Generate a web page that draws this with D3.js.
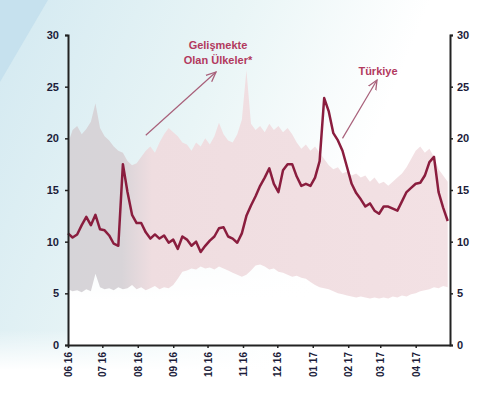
<!DOCTYPE html>
<html>
<head>
<meta charset="utf-8">
<script src="https://cdn.jsdelivr.net/npm/d3@7"></script>
<style>
  body { margin: 0; background: #fff; }
  svg { display: block; }
  .tick text { font-family: "Liberation Sans", Arial, sans-serif; font-weight: bold; fill: #1c1c3a; }
</style>
</head>
<body>
<div id="chart"></div>
<script>
// 4-day steps starting 2016-06-01
const startDate = new Date(2016, 5, 1);
const stepDays = 4;

// Türkiye
const turkey = [10.8, 10.4, 10.7, 11.6, 12.4, 11.6, 12.6, 11.2, 11.1, 10.6,
  9.8, 9.6, 17.5, 14.8, 12.6, 11.8, 11.8, 10.9, 10.3, 10.7,
  10.3, 10.6, 9.9, 10.2, 9.3, 10.5, 10.2, 9.6, 10.0, 9.0,
  9.6, 10.1, 10.5, 11.3, 11.4, 10.5, 10.3, 9.9, 10.8, 12.5,
  13.5, 14.4, 15.4, 16.2, 17.1, 15.6, 14.8, 16.9, 17.5, 17.5,
  16.3, 15.4, 15.6, 15.4, 16.2, 17.8, 23.9, 22.6, 20.5, 19.8,
  18.8, 17.2, 15.6, 14.7, 14.1, 13.4, 13.7, 13.0, 12.7, 13.4,
  13.4, 13.2, 13.0, 13.9, 14.8, 15.2, 15.6, 15.7, 16.4, 17.7,
  18.2, 14.8, 13.3, 12.0];

// Gelişmekte Olan Ülkeler: range max / min
const emHigh = [19.5, 20.8, 21.2, 20.4, 20.9, 21.6, 23.4, 21.0, 20.2, 19.8,
  19.2, 18.8, 18.6, 17.8, 17.4, 17.6, 18.2, 18.8, 19.2, 18.6,
  19.6, 20.4, 21.0, 20.6, 20.2, 19.6, 19.4, 18.8, 19.6, 19.2,
  20.0, 19.4, 20.2, 21.5, 20.4, 19.8, 19.6, 20.4, 21.8, 26.6,
  21.4, 20.8, 21.2, 20.6, 21.4, 20.8, 21.2, 20.6, 21.0, 20.4,
  19.6, 19.0, 19.4, 18.8, 19.2, 18.6, 18.0, 17.4, 17.0, 17.2,
  16.6, 16.8, 16.4, 16.6, 16.2, 16.4, 15.8, 16.2, 15.6, 15.8,
  15.4, 15.8, 16.2, 16.6, 17.2, 18.0, 18.8, 19.2, 18.6, 19.0,
  18.2, 17.0, 16.4, 15.8];
const emLow = [5.4, 5.2, 5.3, 5.1, 5.4, 5.2, 6.9, 5.6, 5.4, 5.5,
  5.3, 5.6, 5.4, 5.5, 5.8, 5.4, 5.6, 5.3, 5.5, 5.7,
  5.4, 5.6, 5.5, 5.8, 6.4, 7.1, 7.2, 7.4, 7.3, 7.6,
  7.4, 7.5, 7.3, 7.6, 7.4, 7.2, 7.0, 6.8, 6.6, 6.8,
  7.2, 7.7, 7.8, 7.6, 7.3, 7.4, 7.1, 7.0, 6.8, 6.6,
  6.7, 6.5, 6.4, 6.1, 5.8, 5.6, 5.5, 5.4, 5.2, 5.0,
  4.9, 4.8, 4.7, 4.6, 4.7, 4.6, 4.5, 4.6, 4.5, 4.6,
  4.5, 4.7, 4.6, 4.8, 4.7, 4.9, 5.0, 5.2, 5.3, 5.4,
  5.6, 5.5, 5.7, 5.6];

const monthLabels = ["06 16", "07 16", "08 16", "09 16", "10 16", "11 16",
  "12 16", "01 17", "02 17", "03 17", "04 17"];
const yTicks = [0, 5, 10, 15, 20, 25, 30];

const width = 480, height = 414;
const margin = { left: 68, right: 450, top: 35, bottom: 345 };

const dates = turkey.map((d, i) => d3.timeDay.offset(startDate, i * stepDays));
const monthDates = monthLabels.map((d, i) => d3.timeMonth.offset(startDate, i));

const x = d3.scaleTime()
  .domain([startDate, new Date(2017, 4, 1)])
  .range([margin.left, margin.right]);
const y = d3.scaleLinear().domain([0, 30]).range([margin.bottom, margin.top]);

const svg = d3.select("#chart").append("svg")
  .attr("width", width)
  .attr("height", height);

const defs = svg.append("defs");
const bg = defs.append("linearGradient").attr("id", "bg")
  .attr("x1", 0).attr("y1", 0).attr("x2", 1).attr("y2", 0.35);
bg.append("stop").attr("offset", 0).attr("stop-color", "#d3e9f1");
bg.append("stop").attr("offset", 0.45).attr("stop-color", "#e9f5f6");
bg.append("stop").attr("offset", 0.8).attr("stop-color", "#ffffff");

const fadeDown = defs.append("linearGradient").attr("id", "fadeDown")
  .attr("x1", 0).attr("y1", 0).attr("x2", 0).attr("y2", 1);
fadeDown.append("stop").attr("offset", 0).attr("stop-color", "#fff").attr("stop-opacity", 0);
fadeDown.append("stop").attr("offset", 1).attr("stop-color", "#fff").attr("stop-opacity", 1);

const band = defs.append("linearGradient").attr("id", "band")
  .attr("gradientUnits", "userSpaceOnUse")
  .attr("x1", margin.left).attr("x2", margin.right).attr("y1", 0).attr("y2", 0);
band.append("stop").attr("offset", 0).attr("stop-color", "#d6d4d8");
band.append("stop").attr("offset", 0.14).attr("stop-color", "#d8d4d8");
band.append("stop").attr("offset", 0.22).attr("stop-color", "#efdde0");
band.append("stop").attr("offset", 1).attr("stop-color", "#f3e1e4");

const marker = defs.append("marker").attr("id", "arrow")
  .attr("viewBox", "0 0 10 10").attr("refX", 9).attr("refY", 5)
  .attr("markerWidth", 9).attr("markerHeight", 9)
  .attr("orient", "auto-start-reverse");
marker.append("path").attr("d", "M0,1 L9,5 L0,9")
  .attr("fill", "none").attr("stroke", "#a8607a").attr("stroke-width", 1.2);

// background
svg.append("rect").attr("width", width).attr("height", height).attr("fill", "url(#bg)");
svg.append("path").attr("d", "M0,0 L48,0 L0,82 Z").attr("fill", "#c6e1ee");
svg.append("rect").attr("x", 0).attr("y", 330).attr("width", width).attr("height", 40)
  .attr("fill", "url(#fadeDown)");
svg.append("rect").attr("x", 0).attr("y", 370).attr("width", width).attr("height", 44)
  .attr("fill", "#fff");
svg.append("rect").attr("x", margin.left).attr("y", 170).attr("width", margin.right - margin.left)
  .attr("height", 130).attr("fill", "url(#fadeDown)");
svg.append("rect").attr("x", margin.left).attr("y", 300).attr("width", margin.right - margin.left)
  .attr("height", margin.bottom - 300).attr("fill", "#fff");

// EM range band
const area = d3.area()
  .x((d, i) => x(dates[i]))
  .y0((d, i) => y(emLow[i]))
  .y1((d, i) => y(emHigh[i]))
  .curve(d3.curveLinear);
svg.append("path").datum(emHigh)
  .attr("d", area)
  .attr("fill", "url(#band)");

// Türkiye line
const line = d3.line()
  .x((d, i) => x(dates[i]))
  .y(d => y(d))
  .curve(d3.curveLinear);
svg.append("path").datum(turkey)
  .attr("d", line)
  .attr("fill", "none")
  .attr("stroke", "#8a1d3e")
  .attr("stroke-width", 2.5)
  .attr("stroke-linejoin", "round");

// axes
const yLeft = svg.append("g").attr("transform", `translate(${margin.left},0)`)
  .call(d3.axisLeft(y).tickValues(yTicks).tickSize(3).tickPadding(6));
const yRight = svg.append("g").attr("transform", `translate(${margin.right},0)`)
  .call(d3.axisRight(y).tickValues(yTicks).tickSize(3).tickPadding(4));
[yLeft, yRight].forEach(g => {
  g.selectAll(".tick text").attr("font-size", 11);
  g.select(".domain").attr("stroke", "#222").attr("stroke-width", 2);
  g.selectAll(".tick line").attr("stroke", "#222").attr("stroke-width", 1.5);
});

const xAxis = svg.append("g").attr("transform", `translate(0,${margin.bottom})`)
  .call(d3.axisBottom(x).tickValues(monthDates)
    .tickFormat((d, i) => monthLabels[i]).tickSize(3).tickSizeOuter(0));
xAxis.select(".domain").attr("stroke", "#222").attr("stroke-width", 2);
xAxis.selectAll(".tick line").attr("stroke", "#222").attr("stroke-width", 1.5);
xAxis.selectAll(".tick text")
  .attr("font-size", 10)
  .attr("transform", "rotate(-90)")
  .attr("text-anchor", "end")
  .attr("x", -7)
  .attr("y", 0)
  .attr("dy", "0.35em");

// annotations
const ann = svg.append("g")
  .attr("font-family", "'Liberation Sans', Arial, sans-serif")
  .attr("font-weight", "bold")
  .attr("font-size", 11)
  .attr("fill", "#b23a5e")
  .attr("text-anchor", "middle");
ann.append("text").attr("x", 218).attr("y", 49).text("Gelişmekte");
ann.append("text").attr("x", 218).attr("y", 64).text("Olan Ülkeler*");
ann.append("text").attr("x", 378).attr("y", 75).text("Türkiye");

svg.append("line")
  .attr("x1", x(dates[17])).attr("y1", y(20.3))
  .attr("x2", 216).attr("y2", 72)
  .attr("stroke", "#a8607a").attr("stroke-width", 1.2)
  .attr("marker-end", "url(#arrow)");
svg.append("line")
  .attr("x1", x(dates[60])).attr("y1", y(20))
  .attr("x2", 377).attr("y2", 80)
  .attr("stroke", "#a8607a").attr("stroke-width", 1.2)
  .attr("marker-end", "url(#arrow)");
</script>
</body>
</html>
